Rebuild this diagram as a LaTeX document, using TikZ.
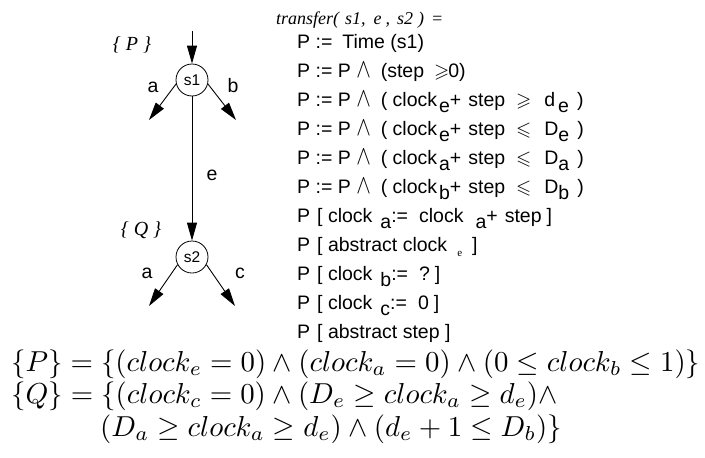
\documentclass[tikz,border=0pt]{standalone}
\usepackage{amsmath,amssymb}
\usepackage{fontspec}
\setmainfont{Liberation Sans}
\newfontfamily\tms{Liberation Serif}
\usetikzlibrary{arrows.meta}
\newcommand\dn[1]{\raisebox{-6pt}{#1}}
\newcommand\hh[1]{\hspace{#1pt}}
\newcommand\wdg{\scalebox{1.05}[1.3]{$\wedge$}}
\newcommand\smalle{\raisebox{-5pt}{\tms\fontsize{11}{11}\selectfont e}}
\begin{document}
\sbox0{$\{P\} = \{(clock_e = 0) \wedge (clock_a = 0) \wedge (0 \le clock_b \le 1)\}$}
\begin{tikzpicture}[x=1pt,y=-1pt,
  st/.style={draw,circle,minimum size=32pt,inner sep=0pt,line width=0.8pt,font=\fontsize{15.5}{15.5}\selectfont},
  ar/.style={-{Triangle[length=18pt,width=10pt]},line width=0.9pt},
  lbl/.style={inner sep=0pt,font=\fontsize{19.5}{19.5}\selectfont},
  ln/.style={anchor=base west,inner sep=0pt,font=\fontsize{19.5}{19.5}\selectfont},
  itl/.style={inner sep=0pt,font=\tms\itshape\fontsize{20}{20}\selectfont},
  fm/.style={anchor=base west,inner sep=0pt}]
\useasboundingbox (0,0) rectangle (705,458);
\pgfmathsetmacro\fsc{689/\the\wd0}
% graph
\node[st] (s1) at (192,80) {s1};
\node[st] (s2) at (192,257) {s2};
\coordinate (in) at (192,31);
\coordinate (a1) at (149,120);
\coordinate (b1) at (236,120);
\coordinate (a2) at (149,306);
\coordinate (c2) at (235,306);
\draw[ar] (in) -- (s1);
\draw[ar] (s1.194) -- (a1);
\draw[ar] (s1.-14) -- (b1);
\draw[ar] (s1) -- (s2);
\draw[ar] (s2.208) -- (a2);
\draw[ar] (s2.-28) -- (c2);
\node[lbl] (la1) at (153,87) {a};
\node[lbl] (lb1) at (233,86) {b};
\node[lbl] (le) at (212,175) {e};
\node[lbl] (la2) at (147,273) {a};
\node[lbl] (lc2) at (240,273) {c};
\node[itl] (P) at (132,45) {\{ P \}};
\node[itl] (Q) at (141,230) {\{ Q \}};
% program text
\node[anchor=base west,inner sep=0pt,font=\tms\itshape\fontsize{18}{18}\selectfont] (t0) at (276,24)
  {transfer(\hh{6}s1,\hh{8}e\hh{4},\hh{7}s2\hh{5})\hh{7}=};
\node[ln] (t1) at (297,48) {P :=\hh{10}Time (s1)};
\node[ln] (t2) at (297,77) {P := P \wdg\hh{10}(step\hh{10}$\geqslant$\hh{-1}0)};
\node[ln] (t3) at (297,106) {P := P \wdg\hh{10}( clock\hh{2}\dn{e}+\hh{7}step\hh{11}$\geqslant$\hh{13}d\hh{3}\dn{e}\hh{8})};
\node[ln] (t4) at (297,135) {P := P \wdg\hh{10}( clock\hh{2}\dn{e}+\hh{7}step\hh{11}$\leqslant$\hh{13}D\dn{e}\hh{8})};
\node[ln] (t5) at (297,164) {P := P \wdg\hh{10}( clock\hh{2}\dn{a}+\hh{7}step\hh{11}$\leqslant$\hh{13}D\dn{a}\hh{8})};
\node[ln] (t6) at (297,193) {P := P \wdg\hh{10}( clock\hh{2}\dn{b}+\hh{7}step\hh{11}$\leqslant$\hh{13}D\dn{b}\hh{8})};
\node[ln] (t7) at (297,222) {P\hh{7}[ clock\hh{8}\dn{a}:=\hh{11}clock\hh{12}\dn{a}+\hh{7}step\hh{5}]};
\node[ln] (t8) at (297,251) {P\hh{7}[ abstract clock\hh{10}\smalle\hh{10}]};
\node[ln] (t9) at (297,280) {P\hh{7}[ clock\hh{8}\dn{b}:=\hh{11}?\hh{5}]};
\node[ln] (t10) at (297,309) {P\hh{7}[ clock\hh{8}\dn{c}:=\hh{11}0\hh{5}]};
\node[ln] (t11) at (297,338) {P\hh{7}[ abstract step ]};
% formulas
\node[fm] (f1) at (11,371) {\scalebox{\fsc}{$\{P\} = \{(clock_e = 0) \wedge (clock_a = 0) \wedge (0 \le clock_b \le 1)\}$}};
\node[fm] (f2) at (11,403) {\scalebox{\fsc}{$\{Q\} = \{(clock_c = 0) \wedge (D_e \ge clock_a \ge d_e)\wedge$}};
\node[fm] (f3) at (100,436) {\scalebox{\fsc}{$(D_a \ge clock_a \ge d_e) \wedge (d_e + 1 \le D_b)\}$}};
\end{tikzpicture}
\end{document}
